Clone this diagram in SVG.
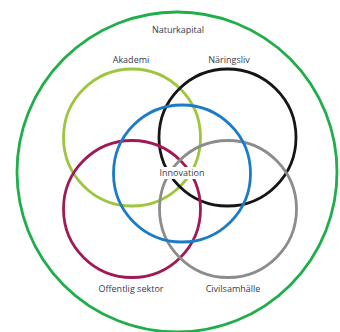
<svg xmlns="http://www.w3.org/2000/svg" width="340" height="332" viewBox="0 0 340 332">
<style>
.c{fill:none;stroke-width:2.8}
.t{font-family:"Open Sans","Liberation Sans",sans-serif;font-size:9px;fill:#3a3a4a;text-anchor:middle}
</style>
<rect width="340" height="332" fill="#fff"/>
<g id="naturkapital"><circle class="c" cx="177" cy="172" r="160" stroke="#1fae4a"/><text class="t" x="178" y="33">Naturkapital</text></g>
<g id="akademi"><circle class="c" cx="132" cy="137.5" r="68.5" stroke="#9cc63e"/><text class="t" x="131" y="63">Akademi</text></g>
<g id="naringsliv"><circle class="c" cx="227.5" cy="137.5" r="68.5" stroke="#151515"/><text class="t" x="229" y="63">Näringsliv</text></g>
<g id="offentlig"><circle class="c" cx="132" cy="209" r="68.5" stroke="#a01a55"/><text class="t" x="131" y="292">Offentlig sektor</text></g>
<g id="civilsamhalle"><circle class="c" cx="228" cy="209" r="68.5" stroke="#8c8c8c"/><text class="t" x="233" y="292">Civilsamhälle</text></g>
<g id="innovation"><circle class="c" cx="182" cy="173.5" r="68.5" stroke="#1b7bc6"/><rect x="157" y="167" width="50" height="12" fill="#fff"/><text class="t" x="182" y="176">Innovation</text></g>
<g id="connectors"/>
</svg>
